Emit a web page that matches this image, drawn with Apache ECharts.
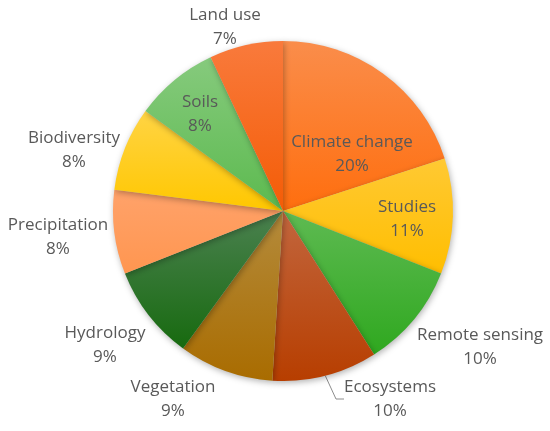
<!DOCTYPE html>
<html>
<head>
<meta charset="utf-8">
<script src="https://cdn.jsdelivr.net/npm/echarts@6/dist/echarts.min.js"></script>
<style>
html,body{margin:0;padding:0;background:#fff;}
#c{width:550px;height:431px;}
</style>
</head>
<body>
<div id="c"></div>
<script>
// Data
var categories = ['Climate change','Studies','Remote sensing','Ecosystems','Vegetation','Hydrology','Precipitation','Biodiversity','Soils','Land use'];
var values = [20, 11, 10, 10, 9, 9, 8, 8, 8, 7];

// Styles (top colour, bottom colour of each slice's gradient)
var topColors = ['#FA8D4B','#FFC933','#5EBA52','#C2663E','#B48B3C','#4B8150','#FFA26A','#FFD444','#86CA7D','#F97A3C'];
var botColors = ['#FF6E0E','#FFBE00','#2FA81F','#B73E00','#A96C00','#176A0F','#FF9650','#FFC700','#5CBA4F','#F45C06'];
// Label anchor positions (layout only)
var labelPos = [[352,154],[407,219],[480,347],[390,399],[173,399],[105,345],[58,237],[74,150],[200,114],[225,27]];

var chart = echarts.init(document.getElementById('c'), null, {renderer:'canvas'});
var data = categories.map(function(n,i){
  return {
    name: n, value: values[i],
    itemStyle: {
      color: new echarts.graphic.LinearGradient(0,0,0,1,[{offset:0,color:topColors[i]},{offset:1,color:botColors[i]}])
    },
    labelLine: { show: i === 3 }
  };
});
chart.setOption({
  animation:false,
  series:[{
    type:'pie',
    center:[283,211],
    radius:170,
    startAngle:90,
    clockwise:true,
    data:data,
    itemStyle:{ shadowBlur:6, shadowColor:'rgba(0,0,0,0.3)', shadowOffsetX:1, shadowOffsetY:2 },
    label:{
      show:true,
      position:'outside',
      formatter:'{b}\n{c}%',
      color:'#595959',
      fontFamily:'Open Sans',
      fontSize:17,
      lineHeight:24,
      align:'center',
      overflow:'none'
    },
    labelLine:{ show:false, length:8, length2:8, lineStyle:{color:'#8c8c8c', width:1} },
    labelLayout:function(p){
      var pos = labelPos[p.dataIndex];
      return { x: pos[0], y: pos[1], align:'center', verticalAlign:'middle' };
    }
  }]
});
</script>
</body>
</html>
